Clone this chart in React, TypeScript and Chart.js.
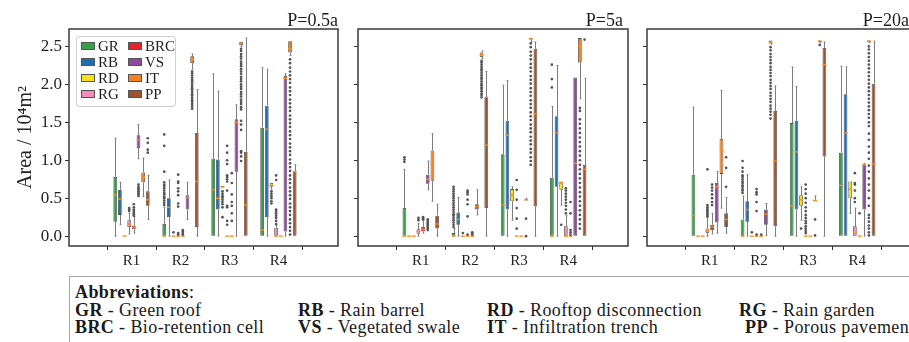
import React, { useEffect, useRef } from 'react';
import { Chart, registerables } from 'chart.js';
Chart.register(...registerables);

type Box = number[]; // [min, q1, median, q3, max]

const SERIF = "'Liberation Serif','Times New Roman',serif";
const REGIONS = ['R1', 'R2', 'R3', 'R4'];
const SERIES = ['GR', 'RB', 'RD', 'RG', 'BRC', 'VS', 'IT', 'PP'];
const COLORS = ['#36a048', '#1f6db3', '#f9e11b', '#f38cbc', '#e3242b', '#8c4a9c', '#f7801e', '#a0522d'];
const Y_TICKS = [0, 0.5, 1.0, 1.5, 2.0, 2.5];
const Y_MIN = -0.13;
const Y_MAX = 2.73;
const X_MIN = -0.59;
const X_MAX = 3.53;
const PANEL_TITLES = ['P=0.5a', 'P=5a', 'P=20a'];

// ---------- P = 0.5a ----------
const P05_GR: Box[] = [[0, 0.19, 0.54, 0.78, 1.29], [0, 0, 0, 0.16, 0.38], [0, 0, 0.61, 1.02, 2.14], [0, 0, 0.08, 1.43, 2.22]];
const P05_GR_OUT = [[], [0.41, 0.44, 0.47, 0.5, 0.52, 0.55, 0.57, 0.6, 0.63, 0.66, 0.68, 0.71, 0.85, 1.19, 1.34], [], []];
const P05_RB: Box[] = [[0.15, 0.28, 0.49, 0.61, 0.71], [0, 0.25, 0.38, 0.5, 0.74], [0, 0.35, 0.5, 1.01, 1.91], [0, 0.25, 1.41, 1.72, 2.2]];
const P05_RB_OUT = [[], [], [], []];
const P05_RD: Box[] = [[0, 0, 0, 0, 0], [0, 0, 0, 0, 0], [0.64, 0.64, 0.65, 0.66, 0.66], [0.62, 0.65, 0.67, 0.7, 0.7]];
const P05_RD_OUT = [[], [0.05], [0.25, 0.38, 0.42, 0.45, 0.48, 0.51, 0.53, 0.56, 0.59], [0.43, 0.46, 0.5, 0.53, 0.56, 0.59]];
const P05_RG: Box[] = [[0.03, 0.12, 0.16, 0.21, 0.3], [0, 0, 0, 0, 0], [0, 0, 0, 0, 0], [0, 0, 0, 0.11, 0.14]];
const P05_RG_OUT = [[0.33, 0.35, 0.37], [0.02, 0.04, 0.39, 0.43, 0.54, 0.59, 0.63, 0.7, 0.72, 0.81], [0.15, 0.2, 0.38, 0.4, 0.6, 0.72, 0.75, 0.78, 0.8, 0.95, 1.0, 1.1, 1.19], [0.16, 0.2, 0.24, 0.27, 0.3, 0.33, 0.35, 0.74, 0.8]];
const P05_BRC: Box[] = [[0.04, 0.09, 0.115, 0.14, 0.26], [0, 0, 0, 0, 0], [0, 0, 0, 0, 0], [0, 0, 0, 0, 0]];
const P05_BRC_OUT = [[0.27, 0.29, 0.31, 0.33, 0.35, 0.38, 0.42], [0.02, 0.04, 0.06, 0.08], [0.2, 0.3, 0.4, 0.45, 0.55, 0.7, 0.83], []];
const P05_VS: Box[] = [[1.02, 1.16, 1.27, 1.33, 1.47], [0.22, 0.35, 0.51, 0.54, 0.71], [0, 0.85, 1.5, 1.54, 1.73], [0, 0.06, 2.08, 2.11, 2.14]];
const P05_VS_OUT = [[0.53, 0.55, 0.57, 0.59, 0.61, 0.63, 0.65, 0.68], [], [], []];
const P05_IT: Box[] = [[0.52, 0.71, 0.78, 0.84, 1.03], [2.2, 2.28, 2.33, 2.37, 2.4], [2.5, 2.52, 2.54, 2.56, 2.56], [2.38, 2.42, 2.47, 2.57, 2.57]];
const P05_IT_OUT = [
  [],
  [1.68, 1.71, 1.74, 1.77, 1.79, 1.82, 1.85, 1.87, 1.9, 1.93, 1.95, 1.98, 2.01, 2.04, 2.06, 2.09, 2.12, 2.15, 2.17],
  [0.99, 1.05, 1.1, 1.12, 1.4, 1.47, 1.52, 1.67, 1.7, 1.74, 1.77, 1.8, 1.84, 1.87, 1.9, 1.94, 1.97, 2.0, 2.04, 2.07, 2.1, 2.14, 2.17, 2.2, 2.24, 2.27, 2.3, 2.34, 2.37, 2.4, 2.44, 2.47],
  [0.02, 0.07, 0.12, 0.17, 0.22, 0.28, 0.33, 0.38, 0.43, 0.49, 0.54, 0.59, 0.64, 0.7, 0.75, 0.8, 0.86, 0.91, 0.96, 1.01, 1.07, 1.12, 1.17, 1.22, 1.28, 1.33, 1.38, 1.44, 1.49, 1.54, 1.59, 1.65, 1.7, 1.75, 1.8, 1.86, 1.91, 1.96, 2.02, 2.07, 2.12, 2.17, 2.22, 2.28, 2.33],
];
const P05_PP: Box[] = [[0.22, 0.4, 0.48, 0.59, 0.8], [0, 0.12, 0.72, 1.36, 1.93], [0, 0, 0.41, 1.11, 2.61], [0, 0, 0.85, 0.85, 0.94]];
const P05_PP_OUT = [[1.1, 1.14, 1.23, 1.29], [], [], []];

// ---------- P = 5a ----------
const P5_GR: Box[] = [[0, 0, 0, 0.37, 0.88], [0, 0, 0, 0.04, 0.1], [0, 0, 0.41, 1.08, 1.99], [0, 0, 0, 0.77, 1.71]];
const P5_GR_OUT = [[0.98, 1.01, 1.04], [0.12, 0.15, 0.18, 0.21, 0.24, 0.27, 0.29, 0.32, 0.35, 0.38, 0.41, 0.44, 0.47, 0.5, 0.53, 0.56, 0.59, 0.62, 0.65], [], [1.96, 2.07, 2.26]];
const P5_RB: Box[] = [[0, 0, 0, 0, 0], [0, 0.15, 0.22, 0.31, 0.51], [0, 0.35, 1.33, 1.52, 2.05], [0, 0.65, 1.36, 1.58, 2.25]];
const P5_RB_OUT = [[], [], [], []];
const P5_RD: Box[] = [[0, 0, 0, 0, 0], [0, 0, 0, 0, 0], [0.21, 0.46, 0.54, 0.62, 0.65], [0.41, 0.61, 0.7, 0.72, 0.72]];
const P5_RD_OUT = [[], [0.04], [], [0.15]];
const P5_RG: Box[] = [[0, 0.03, 0.06, 0.09, 0.17], [0, 0, 0, 0, 0], [0, 0, 0, 0, 0], [0, 0, 0, 0.13, 0.27]];
const P5_RG_OUT = [[0.21, 0.24], [0.02, 0.26, 0.42, 0.48, 0.55, 0.58, 0.6], [0.1, 0.23, 0.37, 0.48, 0.61, 0.74], [0.3, 0.35, 0.4, 0.44, 0.48, 0.52, 0.56, 0.6, 0.63]];
const P5_BRC: Box[] = [[0.04, 0.06, 0.09, 0.12, 0.21], [0, 0, 0, 0, 0], [0, 0, 0, 0, 0], [0, 0, 0, 0, 0]];
const P5_BRC_OUT = [[0.22, 0.23, 0.25], [0.02, 0.03, 0.05], [], [0.02, 0.05, 0.08, 0.3, 0.45]];
const P5_VS: Box[] = [[0.61, 0.69, 0.75, 0.81, 0.99], [0.28, 0.35, 0.39, 0.42, 0.61], [0.47, 0.47, 0.48, 0.48, 0.5], [0, 0, 0.96, 2.09, 2.09]];
const P5_VS_OUT = [[0.08, 0.1, 0.12, 0.14, 0.16, 0.18, 0.2, 0.22], [], [0, 0.23], []];
const P5_IT: Box[] = [[0.46, 0.73, 0.95, 1.13, 1.35], [2.34, 2.36, 2.39, 2.42, 2.44], [2.56, 2.59, 2.6, 2.61, 2.61], [1.81, 2.29, 2.5, 2.61, 2.61]];
const P5_IT_OUT = [
  [],
  [1.83, 1.86, 1.88, 1.91, 1.94, 1.96, 1.99, 2.01, 2.04, 2.07, 2.09, 2.12, 2.15, 2.18, 2.2, 2.23, 2.26, 2.29, 2.31],
  [0.94, 0.99, 1.04, 1.1, 1.15, 1.21, 1.26, 1.31, 1.37, 1.42, 1.47, 1.53, 1.58, 1.63, 1.69, 1.74, 1.79, 1.85, 1.9, 1.95, 2.01, 2.06, 2.11, 2.17, 2.22, 2.27, 2.33, 2.38, 2.43, 2.49, 2.54],
  [0.1, 0.16, 0.22, 0.28, 0.34, 0.4, 0.46, 0.52, 0.58, 0.64, 0.7, 0.76, 0.82, 0.88, 0.94, 1.0, 1.06, 1.12, 1.18, 1.24, 1.3, 1.36, 1.42, 1.48, 1.54, 1.65, 1.69],
];
const P5_PP: Box[] = [[0, 0.1, 0.16, 0.27, 0.42], [0, 0.37, 1.2, 1.83, 2.17], [0, 0.39, 1.61, 2.47, 2.56], [0, 0, 0.88, 0.94, 2.08]];
const P5_PP_OUT = [[], [], [], [2.59]];

// ---------- P = 20a ----------
const P20_GR: Box[] = [[0, 0, 0.27, 0.81, 1.7], [0, 0, 0, 0.22, 0.53], [0, 0, 0.4, 1.49, 2.23], [0, 0, 0.67, 1.1, 2.24]];
const P20_GR_OUT = [[], [0.57, 0.6, 0.62, 0.65, 0.67, 0.7, 0.72, 0.75, 0.78, 0.8, 0.85, 0.9, 0.99], [], []];
const P20_RB: Box[] = [[0, 0, 0, 0, 0], [0, 0.19, 0.35, 0.46, 0.81], [0, 0.35, 1.11, 1.52, 1.97], [0, 0, 1.36, 1.87, 2.23]];
const P20_RB_OUT = [[], [], [], []];
const P20_RD: Box[] = [[0, 0, 0, 0, 0], [0, 0, 0, 0, 0], [0.21, 0.4, 0.48, 0.54, 0.65], [0.3, 0.5, 0.62, 0.72, 0.72]];
const P20_RD_OUT = [[], [0.05], [0.1], []];
const P20_RG: Box[] = [[0, 0.04, 0.07, 0.1, 0.25], [0, 0, 0, 0, 0], [0, 0, 0, 0, 0], [0, 0, 0.04, 0.13, 0.37]];
const P20_RG_OUT = [[0.26, 0.28, 0.3, 0.32, 0.34, 0.36, 0.38, 0.41, 0.88], [0.02, 0.33, 0.45, 0.55, 0.58, 0.62], [0.04, 0.07, 0.1, 0.13, 0.17, 0.2, 0.24, 0.28, 0.33, 0.38, 0.44, 0.5, 0.56, 0.62, 0.68], [0.45, 0.5, 0.6, 0.68, 0.7, 0.83]];
const P20_BRC: Box[] = [[0.03, 0.08, 0.12, 0.15, 0.3], [0, 0, 0, 0, 0], [0, 0, 0, 0, 0], [0, 0, 0, 0, 0]];
const P20_BRC_OUT = [[0.41, 0.45, 0.5, 0.55, 0.6, 0.64, 0.68], [0.02], [], [0.3]];
const P20_VS: Box[] = [[0.04, 0.18, 0.65, 0.7, 0.85], [0.01, 0.15, 0.29, 0.35, 0.43], [0.46, 0.46, 0.47, 0.48, 0.53], [0, 0.35, 0.94, 0.94, 0.96]];
const P20_VS_OUT = [[], [], [0.01, 0.22], []];
const P20_IT: Box[] = [[0.37, 0.82, 1.13, 1.28, 1.92], [2.53, 2.54, 2.56, 2.58, 2.58], [2.55, 2.56, 2.57, 2.58, 2.58], [2.55, 2.56, 2.57, 2.58, 2.58]];
const P20_IT_OUT = [
  [],
  [1.55, 1.6, 1.64, 1.68, 1.72, 1.77, 1.81, 1.85, 1.89, 1.94, 1.98, 2.02, 2.06, 2.11, 2.15, 2.19, 2.23, 2.28, 2.32, 2.36, 2.4, 2.45, 2.49],
  [2.52],
  [0.01, 0.05, 0.1, 0.14, 0.19, 0.24, 0.28, 0.4, 0.5, 0.6, 0.68, 0.76, 0.85, 0.93, 1.02, 1.1, 1.18, 1.27, 1.35, 1.45, 1.5, 1.56, 1.61, 1.66, 1.71, 1.76, 1.81, 1.86, 1.91, 1.96, 2.01, 2.06, 2.11, 2.16, 2.21, 2.26, 2.31, 2.36, 2.41, 2.46, 2.5],
];
const P20_PP: Box[] = [[0.04, 0.12, 0.22, 0.3, 0.51], [0, 0.13, 0.99, 1.65, 1.98], [0, 1.05, 2.26, 2.48, 2.56], [0, 0, 0.95, 2.01, 2.57]];
const P20_PP_OUT = [[0.65, 0.9, 1.04], [], [], []];

const PANEL_BOXES = [
  [P05_GR, P05_RB, P05_RD, P05_RG, P05_BRC, P05_VS, P05_IT, P05_PP],
  [P5_GR, P5_RB, P5_RD, P5_RG, P5_BRC, P5_VS, P5_IT, P5_PP],
  [P20_GR, P20_RB, P20_RD, P20_RG, P20_BRC, P20_VS, P20_IT, P20_PP],
];
const PANEL_OUTS = [
  [P05_GR_OUT, P05_RB_OUT, P05_RD_OUT, P05_RG_OUT, P05_BRC_OUT, P05_VS_OUT, P05_IT_OUT, P05_PP_OUT],
  [P5_GR_OUT, P5_RB_OUT, P5_RD_OUT, P5_RG_OUT, P5_BRC_OUT, P5_VS_OUT, P5_IT_OUT, P5_PP_OUT],
  [P20_GR_OUT, P20_RB_OUT, P20_RD_OUT, P20_RG_OUT, P20_BRC_OUT, P20_VS_OUT, P20_IT_OUT, P20_PP_OUT],
];

const CANVAS_H = 266;
const TITLE_INSET = [0, 5, 8];

function makeBoxPlugin(boxes: Box[][], outs: number[][][], title: string, inset: number) {
  const barGeom = (chart: any, j: number, i: number) => {
    const el = chart.getDatasetMeta(j).data[i];
    const p = el.getProps(['x', 'width'], true);
    return { x: p.x, w: p.width };
  };
  return {
    id: 'boxplot',
    beforeDatasetsDraw(chart: any) {
      const ctx = chart.ctx;
      const ys = chart.scales.y;
      ctx.save();
      ctx.strokeStyle = '#7d7d7d';
      ctx.lineWidth = 1;
      boxes.forEach((ser, j) => {
        ser.forEach((b, i) => {
          const { x, w } = barGeom(chart, j, i);
          const cx = Math.round(x) + 0.5;
          const cap = w * 0.25;
          const pMin = ys.getPixelForValue(b[0]);
          const pQ1 = ys.getPixelForValue(b[1]);
          const pQ3 = ys.getPixelForValue(b[3]);
          const pMax = ys.getPixelForValue(b[4]);
          ctx.beginPath();
          if (b[0] < b[1]) {
            ctx.moveTo(cx, pQ1); ctx.lineTo(cx, pMin);
            ctx.moveTo(cx - cap, pMin); ctx.lineTo(cx + cap, pMin);
          }
          if (b[4] > b[3]) {
            ctx.moveTo(cx, pQ3); ctx.lineTo(cx, pMax);
            ctx.moveTo(cx - cap, pMax); ctx.lineTo(cx + cap, pMax);
          }
          ctx.stroke();
        });
      });
      ctx.restore();
    },
    afterDatasetsDraw(chart: any) {
      const ctx = chart.ctx;
      const ys = chart.scales.y;
      ctx.save();
      boxes.forEach((ser, j) => {
        ser.forEach((b, i) => {
          const { x, w } = barGeom(chart, j, i);
          const pMed = ys.getPixelForValue(b[2]);
          ctx.strokeStyle = '#ff8a1c';
          ctx.lineWidth = 1.4;
          ctx.beginPath();
          ctx.moveTo(x - w / 2, pMed);
          ctx.lineTo(x + w / 2, pMed);
          ctx.stroke();
          ctx.fillStyle = '#555555';
          outs[j][i].forEach((v) => {
            ctx.beginPath();
            ctx.arc(x, ys.getPixelForValue(v), 1.35, 0, Math.PI * 2);
            ctx.fill();
          });
        });
      });
      ctx.restore();
    },
    afterDraw(chart: any) {
      const { left, top, right, bottom } = chart.chartArea;
      const ctx = chart.ctx;
      ctx.save();
      ctx.strokeStyle = '#3a3a3a';
      ctx.lineWidth = 1.5;
      ctx.strokeRect(left, top, right - left, bottom - top);
      ctx.fillStyle = '#1e1e1e';
      ctx.font = `18px ${SERIF}`;
      ctx.textAlign = 'right';
      ctx.textBaseline = 'alphabetic';
      ctx.fillText(title, right - inset, top - 3);
      ctx.restore();
    },
  };
}

function Panel(props: { idx: number; left: number; width: number; padLeft: number; axisW: number }) {
  const { idx, left, width, padLeft, axisW } = props;
  const ref = useRef<HTMLCanvasElement>(null);
  useEffect(() => {
    const showY = idx === 0;
    const boxes = PANEL_BOXES[idx];
    const outs = PANEL_OUTS[idx];
    const chart = new Chart(ref.current as HTMLCanvasElement, {
      type: 'bar',
      data: {
        datasets: SERIES.map((s, j) => ({
          label: s,
          data: boxes[j].map((b, i) => ({ x: i, y: [b[1], b[3]] })),
          backgroundColor: COLORS[j],
          borderColor: '#4a4a4a',
          borderWidth: 0.8,
          borderSkipped: false,
          categoryPercentage: 0.76,
          barPercentage: 0.8,
        })),
      } as any,
      options: {
        animation: false,
        responsive: false,
        maintainAspectRatio: false,
        layout: { padding: { left: padLeft, right: 2, top: 29, bottom: 0 } },
        plugins: {
          legend: { display: false },
          tooltip: { enabled: false },
          title: { display: false },
        },
        scales: {
          x: {
            type: 'linear',
            min: X_MIN,
            max: X_MAX,
            afterBuildTicks: (s: any) => { s.ticks = REGIONS.map((_, i) => ({ value: i })); },
            afterFit: (s: any) => { s.height = 20; },
            grid: { drawOnChartArea: false, drawTicks: true, tickLength: 4, color: '#333' },
            border: { display: false },
            ticks: {
              color: '#222',
              padding: 2,
              font: { family: SERIF, size: 15 },
              callback: (v: any) => REGIONS[Math.round(Number(v))],
            },
          },
          y: {
            min: Y_MIN,
            max: Y_MAX,
            afterBuildTicks: (s: any) => { s.ticks = Y_TICKS.map((v) => ({ value: v })); },
            afterFit: (s: any) => { s.width = axisW; },
            grid: { drawOnChartArea: false, drawTicks: true, tickLength: 4, color: '#333' },
            border: { display: false },
            ticks: {
              display: showY,
              color: '#222',
              padding: 3,
              font: { family: SERIF, size: 17 },
              callback: (v: any) => Number(v).toFixed(1),
            },
            title: {
              display: showY,
              text: 'Area / 10⁴m²',
              color: '#222',
              font: { family: SERIF, size: 20 },
              padding: 0,
            },
          },
        },
      } as any,
      plugins: [makeBoxPlugin(boxes, outs, PANEL_TITLES[idx], TITLE_INSET[idx])],
    });
    return () => chart.destroy();
  }, []);
  return (
    <canvas
      ref={ref}
      width={width}
      height={CANVAS_H}
      style={{ position: 'absolute', left, top: 0, width, height: CANVAS_H }}
    />
  );
}

const LEGEND_ROWS = [['GR', 'BRC'], ['RB', 'VS'], ['RD', 'IT'], ['RG', 'PP']];

function Legend() {
  return (
    <div style={{ position: 'absolute', left: 76, top: 36, width: 100, height: 71, border: '1px solid #cfcfcf', borderRadius: 3, background: 'rgba(255,255,255,0.85)', boxSizing: 'border-box', fontFamily: SERIF, fontSize: 15, color: '#222' }}>
      {LEGEND_ROWS.map((row, r) =>
        row.map((name, c) => {
          const k = SERIES.indexOf(name);
          const cy = 9 + r * 16;
          const px = c === 0 ? 4 : 51;
          return (
            <React.Fragment key={name}>
              <div style={{ position: 'absolute', left: px, top: cy - 4, width: 14, height: 8, background: COLORS[k], border: '1px solid #555', boxSizing: 'border-box' }} />
              <div style={{ position: 'absolute', left: px + 17, top: cy - 8, height: 16, lineHeight: '16px', whiteSpace: 'nowrap' }}>{name}</div>
            </React.Fragment>
          );
        })
      )}
    </div>
  );
}

const ABBR_ROW1 = [['GR', 'Green roof', 75], ['RB', 'Rain barrel', 298], ['RD', 'Rooftop disconnection', 487], ['RG', 'Rain garden', 739]];
const ABBR_ROW2 = [['BRC', 'Bio-retention cell', 75], ['VS', 'Vegetated swale', 298], ['IT', 'Infiltration trench', 487], ['PP', 'Porous pavement', 745]];

function Abbreviations() {
  const txt = { position: 'absolute' as const, height: 18, lineHeight: '18px', whiteSpace: 'nowrap' as const, fontFamily: SERIF, fontSize: 18, letterSpacing: '0.4px', color: '#1a1a1a' };
  return (
    <>
      <div style={{ position: 'absolute', left: 69, top: 276, width: 900, height: 90, border: '1.5px solid #a6a6a6', boxSizing: 'border-box' }} />
      <div style={{ ...txt, left: 75, top: 283 }}><b>Abbreviations</b>:</div>
      {ABBR_ROW1.map(([a, d, x]) => (
        <div key={a as string} style={{ ...txt, left: x as number, top: 301 }}><b>{a}</b> - {d}</div>
      ))}
      {ABBR_ROW2.map(([a, d, x]) => (
        <div key={a as string} style={{ ...txt, left: x as number, top: 318 }}><b>{a}</b> - {d}</div>
      ))}
    </>
  );
}

export default function App() {
  return (
    <div style={{ position: 'absolute', left: 0, top: 0, width: 909, height: 342, overflow: 'hidden', background: '#fff' }}>
      <Panel idx={0} left={0} width={340} padLeft={14} axisW={55} />
      <Panel idx={1} left={346} width={284} padLeft={0} axisW={12} />
      <Panel idx={2} left={635} width={284} padLeft={0} axisW={12} />
      <Legend />
      <Abbreviations />
    </div>
  );
}
